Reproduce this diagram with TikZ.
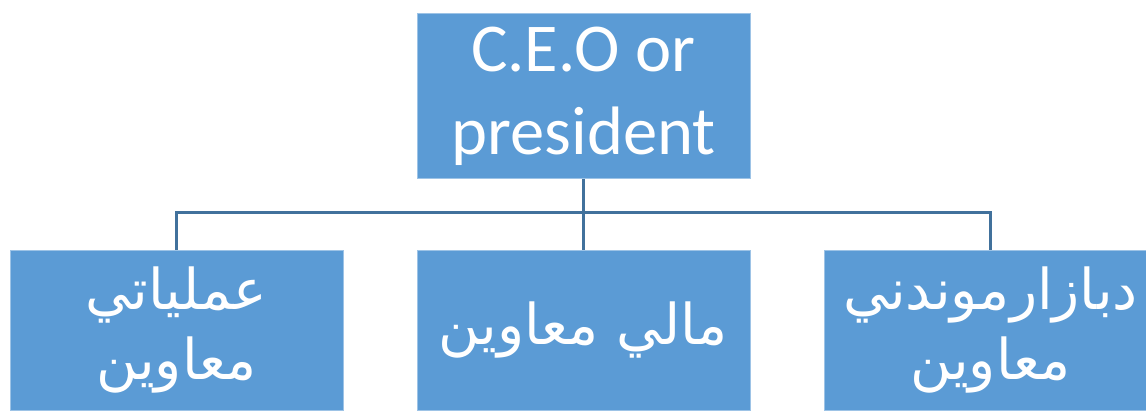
\documentclass[tikz,border=0pt]{standalone}
\usepackage{fontspec}
\setmainfont{Carlito}
\newfontfamily\arabicfont[Script=Arabic]{DejaVu Sans}
\TeXXeTstate=1
\usetikzlibrary{calc}
\definecolor{boxblue}{HTML}{5B9BD5}
\definecolor{linkblue}{HTML}{41719C}
\tikzset{
  post/.style={fill=boxblue, draw=boxblue!60!white, line width=0.5pt, text=white, inner sep=0pt,
    minimum width=6.66cm, minimum height=3.2cm, align=center},
  link/.style={draw=linkblue, line width=1.5pt}
}

\begin{document}
\begin{tikzpicture}[x=0.02cm, y=-0.02cm]
  \clip (0,0) rectangle (1146,410);
  \node[post, minimum height=3.3cm, font=\fontsize{39}{47}\selectfont] (ceo) at (583.5,96) {C.E.O or\\president};
  \node[post, font=\arabicfont\fontsize{32}{40}\selectfont] (ops) at (176.5,330) {\beginR عملياتي\endR\\\beginR معاوين\endR};
  \node[post, font=\arabicfont\fontsize{32}{40}\selectfont] (fin) at (583.5,330) {\beginR مالي معاوين\endR};
  \node[post, font=\arabicfont\fontsize{32}{40}\selectfont] (mkt) at (990.5,330) {\beginR دبازارموندني\endR\\\beginR معاوين\endR};
  % connectors
  \draw[link] (ceo.south) -- (fin.north);
  \draw[link] (ops.north) -- ++(0,-37) -| (mkt.north);
\end{tikzpicture}
\end{document}
